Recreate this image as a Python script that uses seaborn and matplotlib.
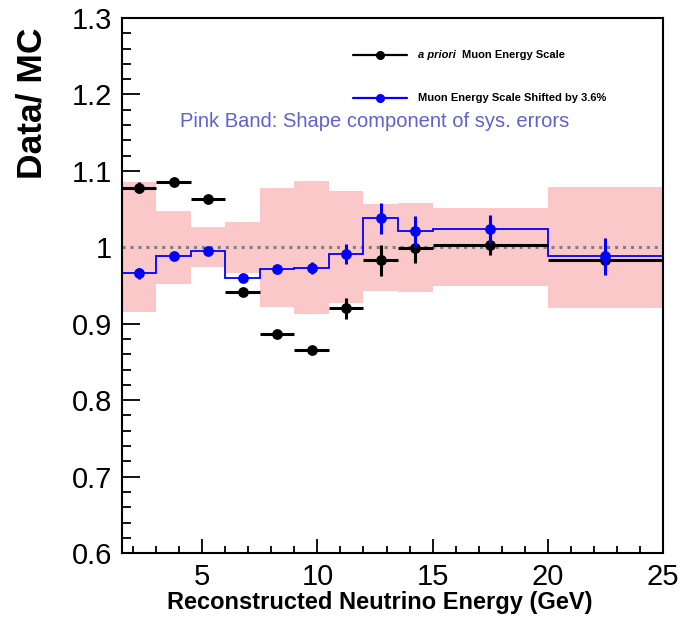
import numpy as np
import pandas as pd
import matplotlib
matplotlib.use("Agg")
import matplotlib.pyplot as plt
import seaborn as sns
from matplotlib.ticker import MultipleLocator
from matplotlib.lines import Line2D

# ---------------- data ----------------
bin_edges = [1.5, 3, 4.5, 6, 7.5, 9, 10.5, 12, 13.5, 15, 20, 25]
bin_centers = [2.25, 3.75, 5.25, 6.75, 8.25, 9.75, 11.25, 12.75, 14.25, 17.5, 22.5]
bin_halfwidths = [0.75, 0.75, 0.75, 0.75, 0.75, 0.75, 0.75, 0.75, 0.75, 2.5, 2.5]

apriori = [1.078, 1.086, 1.063, 0.942, 0.887, 0.866, 0.920, 0.983, 0.999, 1.003, 0.983]
apriori_err = [0.007, 0.004, 0.004, 0.004, 0.004, 0.005, 0.014, 0.020, 0.020, 0.013, 0.016]

shifted = [0.966, 0.988, 0.995, 0.960, 0.972, 0.973, 0.991, 1.038, 1.021, 1.024, 0.988]
shifted_err = [0.007, 0.004, 0.004, 0.004, 0.004, 0.008, 0.013, 0.020, 0.020, 0.018, 0.024]

band_halfwidth = [0.085, 0.048, 0.026, 0.033, 0.078, 0.087, 0.073, 0.057, 0.058, 0.051, 0.079]

overflow_edge = 26.0
overflow_value = 1.031

x_ticks = [5, 10, 15, 20, 25]
y_ticks = [0.6, 0.7, 0.8, 0.9, 1.0, 1.1, 1.2, 1.3]
y_ticklabels = ["0.6", "0.7", "0.8", "0.9", "1", "1.1", "1.2", "1.3"]

df_apriori = pd.DataFrame({"E": bin_centers, "ratio": apriori})
df_shifted = pd.DataFrame({"E": bin_centers, "ratio": shifted})

# ---------------- style ----------------
sns.set_theme(style="white")
plt.rcParams["font.family"] = ["Liberation Sans", "DejaVu Sans"]
plt.rcParams["text.color"] = "black"
plt.rcParams["axes.labelcolor"] = "black"
plt.rcParams["xtick.color"] = "black"
plt.rcParams["ytick.color"] = "black"

fig = plt.figure(figsize=(6.84, 6.18), dpi=100)
ax = fig.add_axes([0.178, 0.105, 0.791, 0.866])

PINK = "#fac8c8"
BLUE = "#0000ff"

# systematic band
lo = [1 - b for b in band_halfwidth]
hi = [1 + b for b in band_halfwidth]
ax.stairs(hi, bin_edges, baseline=lo, fill=True, color=PINK, lw=0, zorder=1)

# reference line at 1
ax.axhline(1.0, color="#808080", ls=(0, (1, 1.6)), lw=2.2, zorder=2)

# shifted histogram step
ax.stairs(shifted + [overflow_value], bin_edges + [overflow_edge], baseline=None,
          color=BLUE, lw=1.3, zorder=3)

# a priori points
ax.errorbar(bin_centers, apriori, yerr=apriori_err, xerr=bin_halfwidths, fmt="none",
            ecolor="black", elinewidth=2.2, capsize=0, zorder=4)
sns.scatterplot(data=df_apriori, x="E", y="ratio", ax=ax, color="black", s=60,
                edgecolor="black", linewidth=0, zorder=5, legend=False)

# shifted points
ax.errorbar(bin_centers, shifted, yerr=shifted_err, fmt="none",
            ecolor=BLUE, elinewidth=2.2, capsize=0, zorder=6)
sns.scatterplot(data=df_shifted, x="E", y="ratio", ax=ax, color=BLUE, s=60,
                edgecolor=BLUE, linewidth=0, zorder=7, legend=False)

# axes
ax.set_xlim(1.5, 25)
ax.set_ylim(0.6, 1.3)
ax.set_xticks(x_ticks)
ax.set_xticklabels([str(t) for t in x_ticks])
ax.set_yticks(y_ticks)
ax.set_yticklabels(y_ticklabels)
ax.xaxis.set_minor_locator(MultipleLocator(1))
ax.yaxis.set_minor_locator(MultipleLocator(0.02))
ax.tick_params(axis="both", which="both", direction="in", top=False, right=False,
               bottom=True, left=True, colors="black")
ax.tick_params(axis="x", which="major", length=10, width=1.3, labelsize=21, pad=7)
ax.tick_params(axis="x", which="minor", length=5, width=1.3)
ax.tick_params(axis="y", which="major", length=13, width=1.3, labelsize=21, pad=7)
ax.tick_params(axis="y", which="minor", length=6.5, width=1.3)
for s in ax.spines.values():
    s.set_linewidth(1.5)
    s.set_color("black")
    s.set_zorder(10)

ax.set_xlabel("Reconstructed Neutrino Energy (GeV)", fontsize=17, fontweight="bold",
              color="black")
ax.xaxis.set_label_coords(0.477, -0.071)
ax.set_ylabel("Data/ MC", fontsize=25.5, fontweight="bold", color="black")
ax.yaxis.set_label_coords(-0.135, 0.84)

# legend (manual, ROOT style)
for yy, col in [(0.931, "black"), (0.850, BLUE)]:
    ax.add_line(Line2D([0.427, 0.527], [yy, yy], transform=ax.transAxes, color=col,
                       lw=1.6, zorder=8))
    ax.add_line(Line2D([0.477], [yy], transform=ax.transAxes, color=col, marker="o",
                       ms=5.5, lw=0, zorder=8))
ax.text(0.547, 0.931, "a priori", transform=ax.transAxes, fontsize=8, fontweight="bold",
        style="italic", va="center", ha="left")
ax.text(0.628, 0.931, "Muon Energy Scale", transform=ax.transAxes, fontsize=8,
        fontweight="bold", va="center", ha="left")
ax.text(0.547, 0.850, "Muon Energy Scale Shifted by 3.6%", transform=ax.transAxes,
        fontsize=8, fontweight="bold", va="center", ha="left")
ax.text(0.107, 0.806, "Pink Band: Shape component of sys. errors", transform=ax.transAxes,
        fontsize=14.5, color="#6060d0", va="center", ha="left")

fig.savefig("out.png", dpi=100)
